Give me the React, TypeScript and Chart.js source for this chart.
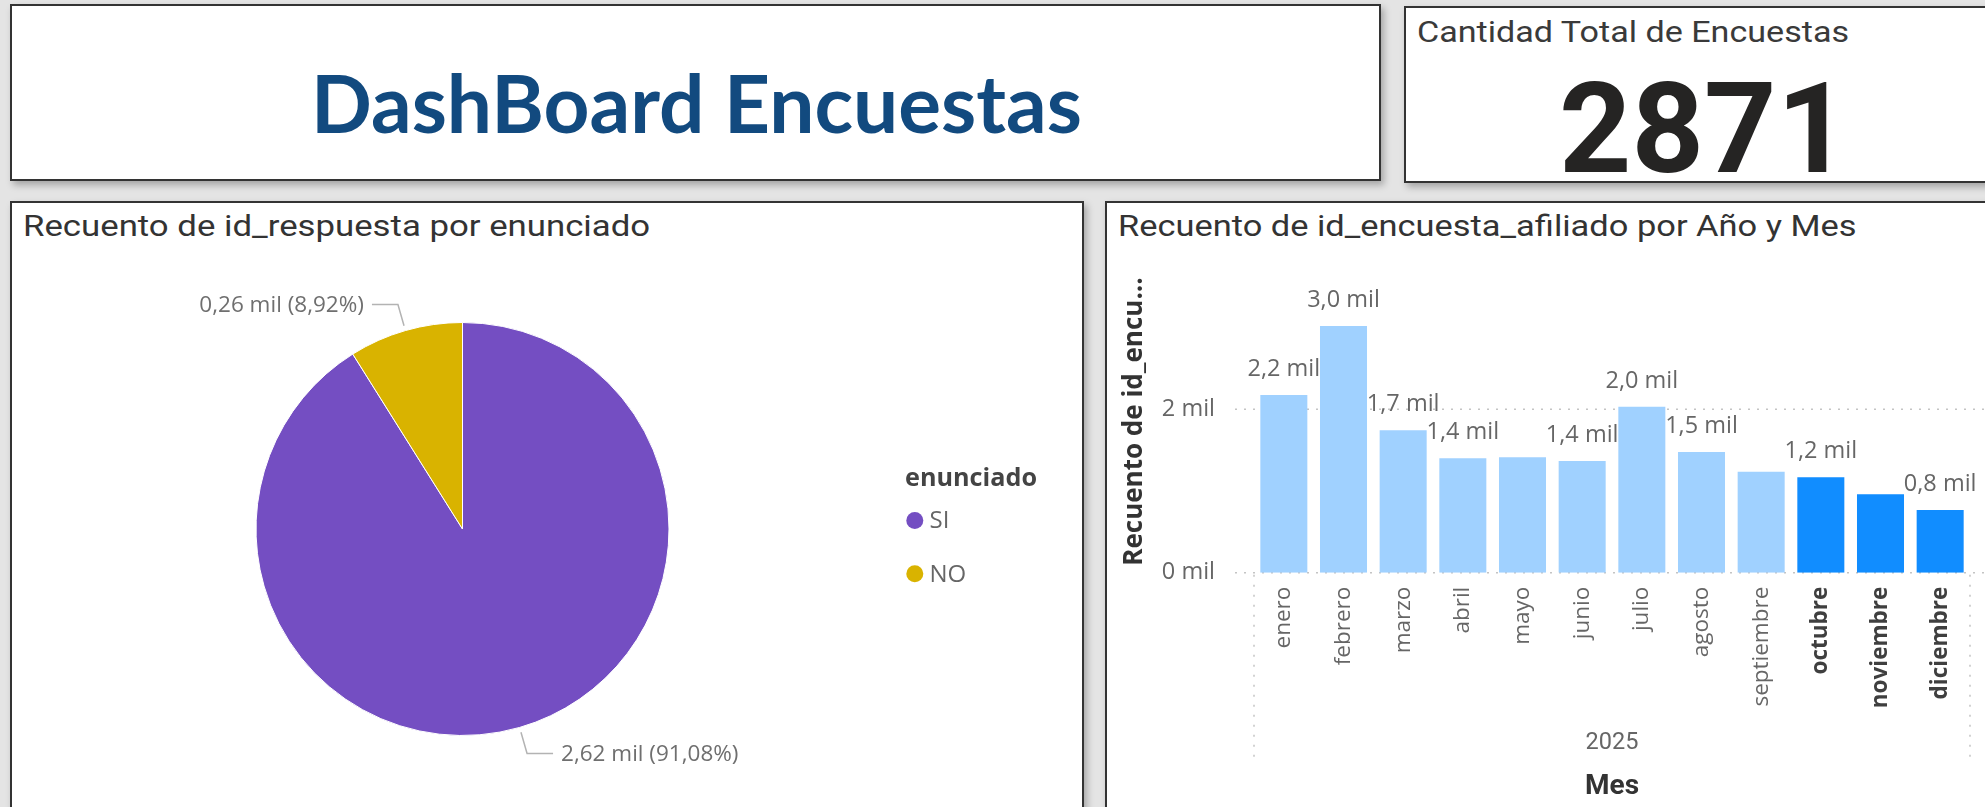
import React, { useEffect, useRef } from "react";
import { Chart, registerables } from "chart.js";

Chart.register(...registerables);

// ---------------- Data ----------------
const pieCategories = ["SI", "NO"];
const pieValues = [2615, 256];
const pieColors = ["#744EC2", "#D9B300"];
const pieLegendTitle = "enunciado";

const months = [
  "enero", "febrero", "marzo", "abril", "mayo", "junio",
  "julio", "agosto", "septiembre", "octubre", "noviembre", "diciembre",
];
const monthValues = [2175, 3020, 1745, 1400, 1412, 1367, 2030, 1477, 1236, 1167, 960, 767];
const monthLabelShown = [true, true, true, true, false, true, true, true, false, true, false, true];
const highlightedMonths = ["octubre", "noviembre", "diciembre"];
const yearLabel = "2025";
const yTickValues = [0, 2000];
const yMax = 3700;

const totalSurveys = 2871;

const dashboardTitle = "DashBoard Encuestas";
const kpiTitle = "Cantidad Total de Encuestas";
const pieTitle = "Recuento de id_respuesta por enunciado";
const barTitle = "Recuento de id_encuesta_afiliado por Año y Mes";
const barYTitle = "Recuento de id_encu...";
const barXTitle = "Mes";

// ---------------- Helpers ----------------
const fmtMil1 = (v: number) => (v / 1000).toFixed(1).replace(".", ",") + " mil";
const fmtMil2 = (v: number) => (Math.round(v / 10) / 100).toFixed(2).replace(".", ",") + " mil";
const fmtPct = (v: number, t: number) => (Math.round((v / t) * 10000) / 100).toFixed(2).replace(".", ",") + "%";

const LIGHT = "#A0D1FF";
const DARK = "#118DFF";

let mctx: CanvasRenderingContext2D | null = null;
function getMctx() {
  if (!mctx) mctx = document.createElement("canvas").getContext("2d");
  return mctx!;
}

type FitProps = {
  text: string;
  left: number;
  baseline: number;
  cap: number;
  width: number;
  family: string;
  weight?: number;
  color: string;
  capRef?: string;
};

// Places text so that its ink starts at `left`, spans `width`, has cap height `cap`, sitting on `baseline`.
function FitText({ text, left, baseline, cap, width, family, weight = 400, color, capRef = "H" }: FitProps) {
  const c = getMctx();
  c.font = `${weight} 100px ${family}`;
  const capAsc = c.measureText(capRef).actualBoundingBoxAscent || 71;
  const size = (cap / capAsc) * 100;
  c.font = `${weight} ${size}px ${family}`;
  const m = c.measureText(text);
  const asc = (m as any).fontBoundingBoxAscent ?? size * 0.93;
  const desc = (m as any).fontBoundingBoxDescent ?? size * 0.24;
  const inkStart = -(m.actualBoundingBoxLeft || 0);
  const inkW = (m.actualBoundingBoxLeft || 0) + (m.actualBoundingBoxRight || m.width);
  const lh = Math.ceil(asc + desc);
  const top = baseline - asc - (lh - asc - desc) / 2;
  const sx = width / inkW;
  return (
    <div
      style={{
        position: "absolute",
        left: left - inkStart * sx,
        top,
        font: `${weight} ${size}px ${family}`,
        lineHeight: `${lh}px`,
        color,
        whiteSpace: "nowrap",
        transform: `scaleX(${sx})`,
        transformOrigin: "0 0",
      }}
    >
      {text}
    </div>
  );
}

const panelStyle = (left: number, top: number, width: number, height: number): React.CSSProperties => ({
  position: "absolute",
  left,
  top,
  width,
  height,
  boxSizing: "border-box",
  border: "2px solid #333333",
  background: "#ffffff",
  boxShadow: "3px 4px 7px rgba(0,0,0,0.28)",
});

// ---------------- Plugins ----------------
const pieExtras = {
  id: "pieExtras",
  afterDatasetsDraw(chart: any) {
    const { ctx } = chart;
    const meta = chart.getDatasetMeta(0);
    const total = pieValues.reduce((a, b) => a + b, 0);
    ctx.save();
    meta.data.forEach((arc: any, i: number) => {
      const { x, y, startAngle, endAngle, outerRadius } = arc.getProps(
        ["x", "y", "startAngle", "endAngle", "outerRadius"],
        true
      );
      const mid = (startAngle + endAngle) / 2;
      const dx = Math.cos(mid);
      const dy = Math.sin(mid);
      const p1x = x + dx * (outerRadius + 5);
      const p1y = y + dy * (outerRadius + 5);
      const p2x = x + dx * (outerRadius + 27);
      const p2y = y + dy * (outerRadius + 27);
      const dir = dx >= 0 ? 1 : -1;
      const p3x = p2x + dir * 26;
      ctx.strokeStyle = "#b3b3b3";
      ctx.lineWidth = 1.5;
      ctx.beginPath();
      ctx.moveTo(p1x, p1y);
      ctx.lineTo(p2x, p2y);
      ctx.lineTo(p3x, p2y);
      ctx.stroke();
      ctx.fillStyle = "#6f6f6f";
      ctx.font = '22.5px "Open Sans"';
      ctx.textBaseline = "middle";
      ctx.textAlign = dir > 0 ? "left" : "right";
      const label = `${fmtMil2(pieValues[i])} (${fmtPct(pieValues[i], total)})`;
      ctx.fillText(label, p3x + dir * 8, p2y + 1);
    });

    // legend
    const lx = 894;
    ctx.textAlign = "left";
    ctx.textBaseline = "middle";
    ctx.fillStyle = "#444444";
    ctx.font = 'bold 25px "Open Sans"';
    const tw = ctx.measureText(pieLegendTitle).width;
    ctx.save();
    ctx.translate(lx, 277);
    ctx.scale(132 / tw, 1);
    ctx.fillText(pieLegendTitle, 0, 0);
    ctx.restore();
    pieCategories.forEach((cat, i) => {
      const cy = 318.6 + i * 53.1;
      ctx.fillStyle = pieColors[i];
      ctx.beginPath();
      ctx.arc(903.8, cy, 8.5, 0, Math.PI * 2);
      ctx.fill();
      ctx.fillStyle = "#666666";
      ctx.font = '24px "Open Sans"';
      ctx.fillText(cat, 918.5, cy + 1);
    });
    ctx.restore();
  },
};

const barExtras = {
  id: "barExtras",
  beforeDatasetsDraw(chart: any) {
    const { ctx, chartArea } = chart;
    const y = chart.scales.y;
    ctx.save();
    ctx.strokeStyle = "#c4c4c4";
    ctx.lineWidth = 1.5;
    ctx.setLineDash([2, 7]);
    yTickValues.forEach((v) => {
      const py = y.getPixelForValue(v);
      ctx.beginPath();
      ctx.moveTo(chartArea.left - 19, py);
      ctx.lineTo(chart.width, py);
      ctx.stroke();
    });
    ctx.setLineDash([2, 8]);
    [chartArea.left, chartArea.right].forEach((px: number) => {
      ctx.beginPath();
      ctx.moveTo(px, chartArea.bottom + 2);
      ctx.lineTo(px, chartArea.bottom + 190);
      ctx.stroke();
    });
    ctx.restore();
  },
  afterDatasetsDraw(chart: any) {
    const { ctx, chartArea } = chart;
    const meta = chart.getDatasetMeta(0);
    ctx.save();
    ctx.font = '23.5px "Open Sans"';
    ctx.fillStyle = "#666666";
    ctx.textAlign = "center";
    ctx.textBaseline = "alphabetic";
    meta.data.forEach((bar: any, i: number) => {
      if (!monthLabelShown[i]) return;
      ctx.fillText(fmtMil1(monthValues[i]), bar.x, bar.y - 19);
    });
    ctx.font = '23.5px "Roboto"';
    ctx.textBaseline = "middle";
    ctx.fillText(yearLabel, (chartArea.left + chartArea.right) / 2, chartArea.bottom + 170.3);
    ctx.restore();
  },
};

// ---------------- App ----------------
export default function App() {
  const pieRef = useRef<HTMLCanvasElement>(null);
  const barRef = useRef<HTMLCanvasElement>(null);

  useEffect(() => {
    const pie = new Chart(pieRef.current!, {
      type: "pie",
      data: {
        labels: pieCategories,
        datasets: [
          {
            data: pieValues,
            backgroundColor: pieColors,
            borderColor: "#ffffff",
            borderWidth: 1,
          },
        ],
      },
      options: {
        animation: false,
        responsive: false,
        devicePixelRatio: 1,
        layout: { padding: { left: 244.5, top: 120, right: 413.5, bottom: 71 } },
        plugins: { legend: { display: false }, tooltip: { enabled: false } },
      },
      plugins: [pieExtras],
    } as any);

    const isHi = (i: number) => highlightedMonths.includes(months[i]);

    const bar = new Chart(barRef.current!, {
      type: "bar",
      data: {
        labels: months,
        datasets: [
          {
            data: monthValues,
            backgroundColor: months.map((m) => (highlightedMonths.includes(m) ? DARK : LIGHT)),
            borderWidth: 0,
            barPercentage: 0.788,
            categoryPercentage: 1,
          },
        ],
      },
      options: {
        animation: false,
        responsive: false,
        devicePixelRatio: 1,
        layout: { padding: { left: 0, top: 68.4, right: 16, bottom: 0 } },
        plugins: { legend: { display: false }, tooltip: { enabled: false } },
        scales: {
          x: {
            grid: { display: false, drawTicks: false },
            border: { display: false },
            ticks: {
              autoSkip: false,
              maxRotation: 90,
              minRotation: 90,
              padding: 14,
              color: (c: any) => (isHi(c.index) ? "#3f3f3f" : "#666666"),
              font: (c: any) => ({
                family: "Open Sans",
                size: 22.5,
                weight: isHi(c.index) ? "bold" : "normal",
              }),
            },
            title: {
              display: true,
              text: barXTitle,
              color: "#333333",
              font: { family: "Roboto", size: 28, weight: "bold" },
              padding: { top: 0, bottom: 3.5 },
            },
            afterFit: (s: any) => {
              s.height = 234.3;
            },
          },
          y: {
            min: 0,
            max: yMax,
            afterBuildTicks: (s: any) => {
              s.ticks = yTickValues.map((v) => ({ value: v }));
            },
            grid: { display: false, drawTicks: false },
            border: { display: false },
            ticks: {
              padding: 39,
              color: "#666666",
              font: { family: "Open Sans", size: 23.5 },
              callback: (v: any) => `${Number(v) / 1000} mil`,
            },
            title: {
              display: true,
              text: barYTitle,
              color: "#333333",
              font: { family: "Open Sans", size: 26, weight: "bold" },
              padding: { top: 12.8, bottom: 0 },
            },
            afterFit: (s: any) => {
              s.width = 148;
            },
          },
        },
      },
      plugins: [barExtras],
    } as any);

    return () => {
      pie.destroy();
      bar.destroy();
    };
  }, []);

  return (
    <div
      style={{
        position: "fixed",
        left: 0,
        top: 0,
        width: 1985,
        height: 807,
        overflow: "hidden",
        background: "#e4e4e4",
      }}
    >
      <div style={panelStyle(10, 4, 1371, 177)} />
      <div style={panelStyle(1404, 6, 620, 177)} />
      <div style={panelStyle(10, 201, 1074, 700)} />
      <div style={panelStyle(1105, 201, 900, 700)} />

      <FitText
        text={dashboardTitle}
        left={317}
        baseline={133.3}
        cap={58}
        width={763}
        family='"Lato"'
        weight={700}
        color="#124A7F"
      />
      <FitText
        text={kpiTitle}
        left={1418.5}
        baseline={41.7}
        cap={21.7}
        width={431}
        family='"Roboto"'
        color="#3a3a3a"
      />
      <FitText
        text={String(totalSurveys)}
        left={1562.7}
        baseline={171.7}
        cap={91.7}
        width={264}
        family='"Roboto"'
        weight={700}
        color="#252423"
        capRef={String(totalSurveys)}
      />
      <FitText
        text={pieTitle}
        left={25}
        baseline={235.5}
        cap={21}
        width={624}
        family='"Roboto"'
        color="#333333"
      />
      <FitText
        text={barTitle}
        left={1120}
        baseline={235.5}
        cap={21}
        width={735}
        family='"Roboto"'
        color="#333333"
      />

      <canvas
        ref={pieRef}
        width={1072}
        height={605}
        style={{ position: "absolute", left: 11, top: 202, width: 1072, height: 605 }}
      />
      <canvas
        ref={barRef}
        width={880}
        height={605}
        style={{ position: "absolute", left: 1106, top: 202, width: 880, height: 605 }}
      />
    </div>
  );
}
